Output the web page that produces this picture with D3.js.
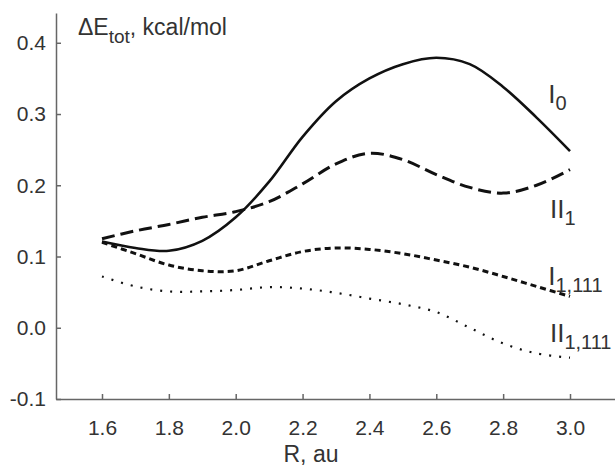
<!DOCTYPE html>
<head>
  <meta charset="utf-8">
  <script src="https://d3js.org/d3.v7.min.js"></script>
  <style>
body { margin: 0; background: #fff; }
svg { font-family: "Liberation Sans", Arial, sans-serif; }
.axis path, .axis line { stroke: #666; stroke-width: 1.5px; }
.axis text { fill: #333; font-size: 21px; }
.curve { fill: none; stroke: #111; }
.lbl { fill: #333; }
  </style>
</head>
<body>
  <script>
    // R, au
    var R = [1.6, 1.7, 1.8, 1.9, 2.0, 2.1, 2.2, 2.3, 2.4, 2.5, 2.6, 2.7, 2.8, 2.9, 3.0];
    // delta E tot, kcal/mol
    var I0 =      [0.121, 0.112, 0.108, 0.122, 0.155, 0.205, 0.268, 0.318, 0.350, 0.370, 0.379, 0.370, 0.338, 0.295, 0.248];
    var II1 =     [0.125, 0.136, 0.145, 0.155, 0.163, 0.177, 0.202, 0.230, 0.245, 0.236, 0.215, 0.197, 0.189, 0.200, 0.222];
    var I1111 =   [0.120, 0.104, 0.088, 0.080, 0.080, 0.094, 0.107, 0.112, 0.110, 0.104, 0.095, 0.085, 0.072, 0.058, 0.044];
    var II1111 =  [0.072, 0.058, 0.051, 0.051, 0.053, 0.057, 0.055, 0.049, 0.041, 0.033, 0.022, 0.000, -0.022, -0.036, -0.042];
    var xTicks = [1.6, 1.8, 2.0, 2.2, 2.4, 2.6, 2.8, 3.0];
    var yTicks = [-0.1, 0.0, 0.1, 0.2, 0.3, 0.4];

    var width = 615, height = 466;
    var svg = d3.select("body").append("svg")
      .attr("width", width)
      .attr("height", height);

    var x = d3.scaleLinear().domain([1.4624, 3.1346]).range([56, 615]);
    var y = d3.scaleLinear().domain([-0.1, 0.4418]).range([399, 13]);

    // plain hyphen for negatives, as in the original
    var fmt = function(d) { return d3.format(".1f")(d).replace("\u2212", "-"); };

    svg.append("g")
      .attr("class", "axis")
      .attr("transform", "translate(0," + y(-0.1) + ")")
      .call(d3.axisBottom(x).tickValues(xTicks).tickFormat(fmt)
        .tickSizeInner(-5).tickSizeOuter(0).tickPadding(21));

    svg.append("g")
      .attr("class", "axis")
      .attr("transform", "translate(" + x(1.4624) + ",0)")
      .call(d3.axisLeft(y).tickValues(yTicks).tickFormat(fmt)
        .tickSizeInner(-5).tickSizeOuter(0).tickPadding(10));

    var series = [
      {values: I0, dash: null, w: 2.6},
      {values: II1, dash: "13,6", w: 3},
      {values: I1111, dash: "6,4", w: 3},
      {values: II1111, dash: "2,8", w: 2.2}
    ];

    var line = d3.line()
      .x(function(d, i) { return x(R[i]); })
      .y(function(d) { return y(d); })
      .curve(d3.curveCatmullRom.alpha(0.5));

    svg.selectAll(".curve")
      .data(series)
      .enter().append("path")
      .attr("class", "curve")
      .attr("d", function(d) { return line(d.values); })
      .attr("stroke-width", function(d) { return d.w; })
      .attr("stroke-dasharray", function(d) { return d.dash; });

    // curve labels
    var labels = [
      {main: "I", sub: "0", r: 2.935, e: 0.3156},
      {main: "II", sub: "1", r: 2.94, e: 0.1542},
      {main: "I", sub: "1,111", r: 2.935, e: 0.0603},
      {main: "II", sub: "1,111", r: 2.94, e: -0.0196}
    ];
    var t = svg.selectAll(".lbl")
      .data(labels)
      .enter().append("text")
      .attr("class", "lbl")
      .attr("x", function(d) { return x(d.r); })
      .attr("y", function(d) { return y(d.e); })
      .style("font-size", "26px");
    t.append("tspan").text(function(d) { return d.main; });
    t.append("tspan").attr("dy", 7).style("font-size", "20px")
      .text(function(d) { return d.sub; });

    // axis titles
    var yt = svg.append("text").attr("class", "lbl")
      .attr("x", 78).attr("y", 35).style("font-size", "23px");
    yt.append("tspan").text("\u0394E");
    yt.append("tspan").attr("dy", 8).style("font-size", "19px").text("tot");
    yt.append("tspan").attr("dy", -8).text(", kcal/mol");

    svg.append("text").attr("class", "lbl")
      .attr("x", 311).attr("y", 462)
      .attr("text-anchor", "middle")
      .style("font-size", "23px")
      .text("R, au");
  </script>
</body>
